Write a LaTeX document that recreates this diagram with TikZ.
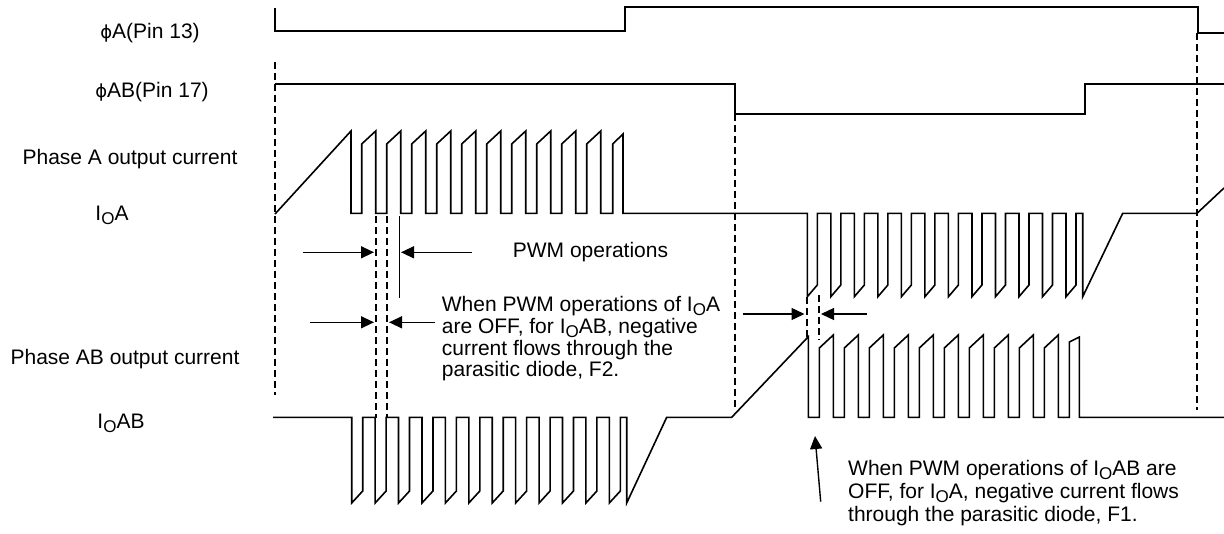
\documentclass[tikz,border=0pt]{standalone}
\usepackage{fontspec}
\setmainfont{Liberation Sans}
\newfontfamily\phifont{DejaVu Sans}
\usetikzlibrary{arrows.meta}
\newcommand{\lowO}{\raisebox{-0.18em}{\fontsize{17}{17}\selectfont O}}
\newcommand{\phisym}{{\phifont\fontsize{18}{18}\selectfont ϕ}}
\begin{document}
\begin{tikzpicture}[x=1pt,y=-1pt,
  wave/.style={line width=1.6pt, line join=miter},
  guide/.style={line width=1.6pt, dash pattern=on 7pt off 4pt},
  lbl/.style={font=\fontsize{21}{21.5}\selectfont, inner sep=0pt},
  note/.style={font=\fontsize{21}{21.8}\selectfont, inner sep=0pt, align=left, anchor=north west},
  arr/.style={line width=1.4pt, -{Triangle[length=13pt,width=12pt]}}]
\useasboundingbox (0,0) rectangle (1224,533);

% labels
\node[lbl, anchor=base] (phiA)  at (150,38.5) {\phisym A(Pin 13)};
\node[lbl, anchor=base] (phiAB) at (152,97.5) {\phisym AB(Pin 17)};
\node[lbl, anchor=base] (phA)   at (130,164.5) {Phase A output current};
\node[lbl, anchor=base] (ioa)   at (112,220.5) {I\lowO A};
\node[lbl, anchor=base] (phAB)  at (125,364.5) {Phase AB output current};
\node[lbl, anchor=base] (ioab)  at (121,428.5) {I\lowO AB};

% digital signals
\draw[wave] (275,8) -- (275,31) -- (625,31) -- (625,7) -- (1198,7) -- (1198,33) -- (1224,33);
\draw[wave] (275,84) -- (735,84) -- (735,114) -- (1085,114) -- (1085,84) -- (1224,84);

% IOA
\draw[wave] (275,214) -- (351,131) -- (351,213.3)
  \foreach \k in {0,...,9}{ -- ({361.7+25*\k},213.3) -- ({361.7+25*\k},144) -- ({375.7+25*\k},131) -- ({375.7+25*\k},213.3) }
  -- (612.7,213.3) -- (612.7,144) -- (623,134) -- (623,213.3)
  \foreach \k in {0,...,11}{ -- ({807.3+23.52*\k},213.3) -- ({807.3+23.52*\k},296.7) -- ({817.3+23.52*\k},285) -- ({817.3+23.52*\k},213.3) }
  -- (1082.7,213.3) -- (1082.7,296.7) -- (1122.7,213.3) -- (1197,213.3) -- (1224,188);

% IOAB
\draw[wave] (273,417.3)
  \foreach \k in {0,...,11}{ -- ({351.7+23.42*\k},417.3) -- ({351.7+23.42*\k},503) -- ({362.7+23.42*\k},491) -- ({362.7+23.42*\k},417.3) }
  -- (626.7,417.3) -- (626.7,503) -- (666.7,417.3) -- (731.7,417.3) -- (808.3,336.7) -- (808.3,417.3)
  \foreach \k in {0,...,9}{ -- ({819.3+25*\k},417.3) -- ({819.3+25*\k},348) -- ({833.3+25*\k},335) -- ({833.3+25*\k},417.3) }
  -- (1069.3,417.3) -- (1069.3,342) -- (1079.3,337) -- (1079.3,417.3) -- (1224,417.3);

% guide lines
\draw[guide] (275,62) -- (275,395);
\draw[guide] (735,114) -- (735,410);
\draw[guide] (1197,33) -- (1197,410);
\draw[guide] (376,216) -- (376,418);
\draw[guide] (386.7,216) -- (386.7,418);
\draw[line width=1.5pt] (399.5,216) -- (399.5,298);
\draw[guide] (806.7,297) -- (806.7,340);
\draw[guide] (819,295) -- (819,340);

% arrows
\coordinate (a1s) at (302.7,252.3); \coordinate (a1e) at (374,252.3);
\coordinate (a2s) at (471.7,252.3); \coordinate (a2e) at (401,252.3);
\coordinate (b1s) at (310,322.3);   \coordinate (b1e) at (374,322.3);
\coordinate (b2s) at (435,322.3);   \coordinate (b2e) at (389,322.3);
\coordinate (c1s) at (742.7,314);   \coordinate (c1e) at (804.5,314);
\coordinate (c2s) at (866.7,314);   \coordinate (c2e) at (821,314);
\coordinate (d1s) at (820.7,501.7); \coordinate (d1e) at (815,436);
\draw[arr] (a1s) -- (a1e);
\draw[arr] (a2s) -- (a2e);
\draw[arr] (b1s) -- (b1e);
\draw[arr] (b2s) -- (b2e);
\draw[arr] (c1s) -- (c1e);
\draw[arr] (c2s) -- (c2e);
\draw[arr] (d1s) -- (d1e);

% annotations
\node[lbl] (pwm) at (590.5,252.3) {PWM operations};
\node[note] (noteF2) at (441.7,296) {When PWM operations of I\lowO A\\are OFF, for I\lowO AB, negative\\current flows through the\\parasitic diode, F2.};
\node[note, font=\fontsize{21}{23}\selectfont] (noteF1) at (848,460.5) {When PWM operations of I\lowO AB are\\OFF, for I\lowO A, negative current flows\\through the parasitic diode, F1.};
\end{tikzpicture}
\end{document}
